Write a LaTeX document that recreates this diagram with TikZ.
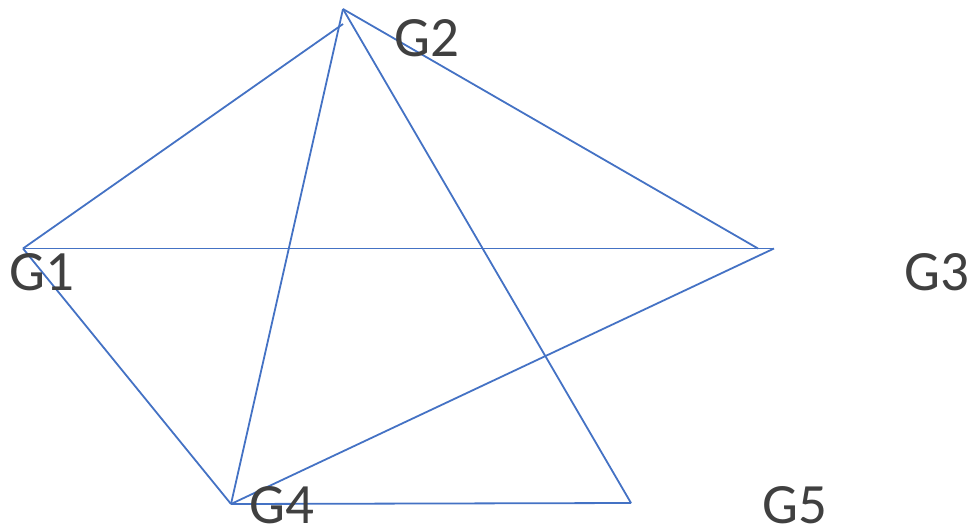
\documentclass[tikz,border=0pt]{standalone}
\usepackage{fontspec}
\setmainfont{Carlito}
\definecolor{edgeblue}{HTML}{4472C4}
\definecolor{labelgray}{HTML}{404040}
\begin{document}
\begin{tikzpicture}[x=1pt,y=-1pt,
  edge/.style={draw=edgeblue,line width=1.8pt},
  lbl/.style={anchor=base west,inner sep=0pt,text=labelgray,font=\fontsize{57}{60}\selectfont}]
\useasboundingbox (0,0) rectangle (972,528);
\coordinate (v1) at (23,248.5);
\coordinate (v2) at (343,9);
\coordinate (v2b) at (343,24);
\coordinate (v3) at (774,248.5);
\coordinate (v3b) at (758,248.5);
\coordinate (v4) at (231,504);
\coordinate (v5) at (631,503);
\draw[edge] (v1) -- (v2b);
\draw[edge] (v1) -- (v3);
\draw[edge] (v1) -- (v4);
\draw[edge] (v2) -- (v3b);
\draw[edge] (v2) -- (v4);
\draw[edge] (v2) -- (v5);
\draw[edge] (v3) -- (v4);
\draw[edge] (v4) -- (v5);
\node[lbl] (g1) at (9,290) {G1};
\node[lbl] (g2) at (394,56) {G2};
\node[lbl] (g3) at (904,290) {G3};
\node[lbl] (g4) at (249,523) {G4};
\node[lbl] (g5) at (762,523) {G5};
\end{tikzpicture}
\end{document}
